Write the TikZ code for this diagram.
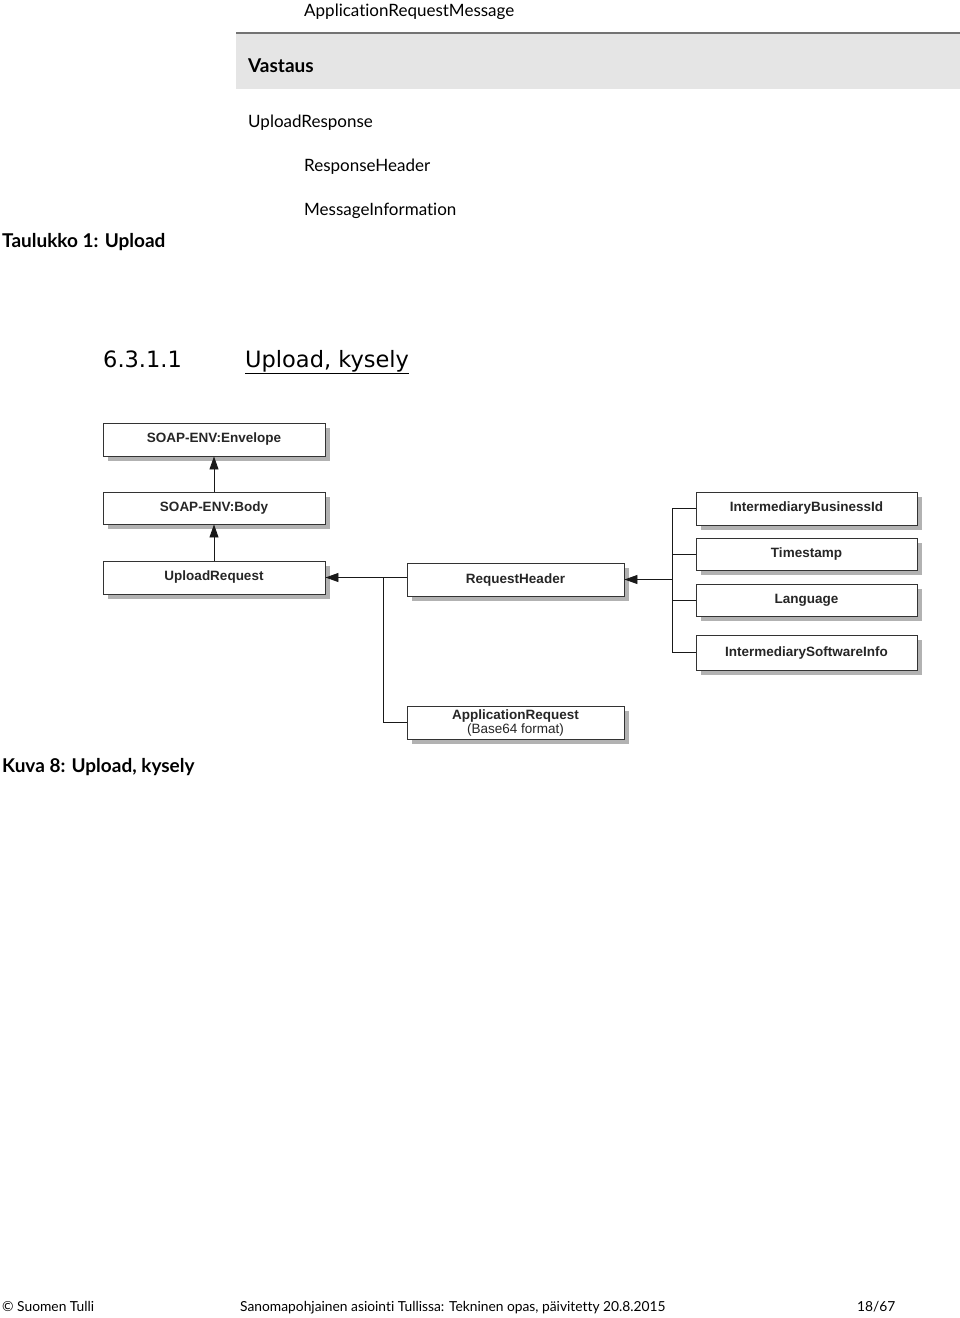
\documentclass[tikz,border=0pt]{standalone}
\usepackage{fontspec}
\setmainfont[Ligatures={NoCommon,NoDiscretionary,NoRequired,NoContextual}]{Lato}
\newfontfamily\arialf{Liberation Sans}
\newfontfamily\dejaf{DejaVu Sans}
\usetikzlibrary{arrows.meta,shadows}
\begin{document}
\begin{tikzpicture}[x=1pt,y=-1pt,
  txt/.style={anchor=base west,inner sep=0pt,font=\fontsize{17}{19}\selectfont},
  btxt/.style={txt,font=\fontsize{19}{21}\selectfont\bfseries},
  ftxt/.style={txt,font=\fontsize{13.8}{16}\selectfont},
  htxt/.style={anchor=base west,inner sep=0pt,font=\dejaf\fontsize{22.5}{26}\selectfont},
  box/.style={draw=black!80,line width=0.9pt,fill=white,inner sep=0pt,
    font=\arialf\fontsize{13.5}{15}\selectfont\bfseries,text=black!85,
    drop shadow={shadow xshift=5pt,shadow yshift=-5pt,fill=black!30,opacity=1}},
  conn/.style={line width=0.9pt,draw=black!90},
  arr/.style={conn,-{Triangle[length=13pt,width=9pt]}}]
\useasboundingbox (0,0) rectangle (960,1318);
% table fragment
\fill[black!10] (236,33) rectangle (960,89);
\draw[black!55,line width=1.2pt] (236,33) -- (960,33);
\node[txt] (arm) at (304,16.5) {ApplicationRequestMessage};
\node[btxt] (vast) at (248,72.5) {Vastaus};
\node[txt] (ur) at (248,127.5) {UploadResponse};
\node[txt] (rh) at (304,171.5) {ResponseHeader};
\node[txt] (mi) at (304,215.5) {MessageInformation};
\node[btxt] (tab) at (2,247.5) {Taulukko 1: Upload};
% heading
\node[htxt] (hnum) at (103,367) {6.3.1.1};
\node[htxt] (htitle) at (245,367) {\underline{Upload, kysely}};
% diagram
\node[box,minimum width=222pt,minimum height=33pt] (env) at (214,439.5) {SOAP-ENV:Envelope};
\node[box,minimum width=222pt,minimum height=32pt] (body) at (214,508) {SOAP-ENV:Body};
\node[box,minimum width=222pt,minimum height=33pt] (upr) at (214,577.5) {UploadRequest};
\node[box,minimum width=217pt,minimum height=33pt] (reqh) at (515.5,579.5) {RequestHeader};
\node[box,minimum width=221pt,minimum height=33pt] (ibid) at (806.5,508.5) {IntermediaryBusinessId};
\node[box,minimum width=221pt,minimum height=32pt] (ts) at (806.5,554) {Timestamp};
\node[box,minimum width=221pt,minimum height=32pt] (lang) at (806.5,600) {Language};
\node[box,minimum width=221pt,minimum height=35pt] (isi) at (806.5,652.5) {IntermediarySoftwareInfo};
\node[box,minimum width=217pt,minimum height=33pt,align=center] (apr) at (515.5,722.5) {ApplicationRequest\\[-1pt]{\mdseries (Base64 format)}};
\draw[arr] (body) -- (env);
\draw[arr] (upr) -- (body);
\coordinate (j1) at (383,577.5);
\draw[arr] (reqh.west |- upr.east) -- (upr.east);
\draw[conn] (j1) |- (apr.west);
\coordinate (j2) at (672,579.5);
\draw[arr] (j2) -- (reqh.east);
\draw[conn] (ibid.west) -| (j2 |- isi.west) -- (isi.west);
\draw[conn] (j2 |- ts.west) -- (ts.west);
\draw[conn] (j2 |- lang.west) -- (lang.west);
\node[btxt] (cap) at (2,772.5) {Kuva 8: Upload, kysely};
% footer
\node[ftxt] (f1) at (2,1311) {© Suomen Tulli};
\node[ftxt] (f2) at (240,1311) {Sanomapohjainen asiointi Tullissa: Tekninen opas, päivitetty 20.8.2015};
\node[ftxt] (f3) at (857,1311) {18/67};
\end{tikzpicture}
\end{document}
